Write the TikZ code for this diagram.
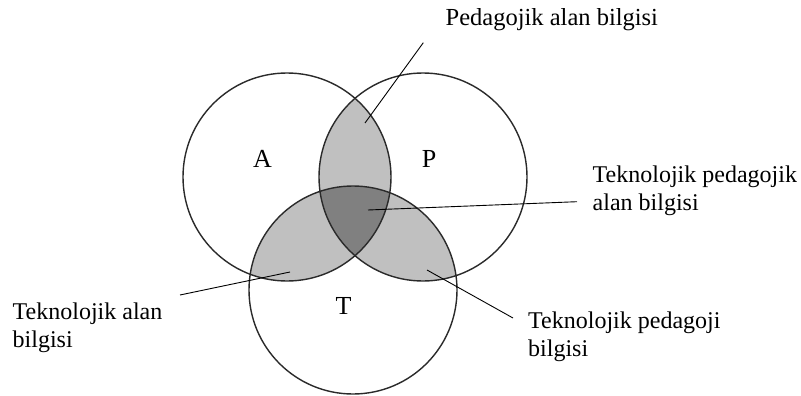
\documentclass[tikz,border=0pt]{standalone}
\usepackage{fontspec}
\setmainfont{Liberation Serif}
\definecolor{lightfill}{HTML}{C0C0C0}
\definecolor{darkfill}{HTML}{808080}
\definecolor{ringcol}{HTML}{2A2A2A}
\begin{document}
\begin{tikzpicture}[x=1pt,y=-1pt,
 ring/.style={draw=ringcol, line width=1.4pt, circle, minimum size=208pt, inner sep=0pt},
 lbl/.style={font=\fontsize{24}{28}\selectfont, inner sep=0pt, align=left, anchor=north west},
 letter/.style={font=\fontsize{26}{30}\selectfont, inner sep=0pt, anchor=base},
 leader/.style={draw=black, line width=0.9pt}]
\useasboundingbox (0,0) rectangle (801,396);
\coordinate (cA) at (287,177);
\coordinate (cP) at (423,177);
\coordinate (cT) at (353,290);
% pairwise overlaps
\begin{scope}
 \clip (cA) circle[radius=104pt];
 \fill[lightfill] (cP) circle[radius=104pt];
 \fill[lightfill] (cT) circle[radius=104pt];
\end{scope}
\begin{scope}
 \clip (cP) circle[radius=104pt];
 \fill[lightfill] (cT) circle[radius=104pt];
\end{scope}
% triple overlap
\begin{scope}
 \clip (cA) circle[radius=104pt];
 \clip (cP) circle[radius=104pt];
 \fill[darkfill] (cT) circle[radius=104pt];
\end{scope}
% circles
\node[ring] (A) at (cA) {};
\node[ring] (P) at (cP) {};
\node[ring] (T) at (cT) {};
% letters
\node[letter] (la) at (262.5,167.5) {A};
\node[letter] (lp) at (429,167.5) {P};
\node[letter] (lt) at (343.5,314) {T};
% labels
\node[lbl, anchor=base west, font=\fontsize{24.5}{28}\selectfont] (ped) at (445.5,26) {Pedagojik alan bilgisi};
\node[lbl] (tpak) at (592.5,166) {Teknolojik pedagojik\\alan bilgisi};
\node[lbl] (tk) at (12.5,302.5) {Teknolojik alan\\bilgisi};
\node[lbl] (tpk) at (528,312) {Teknolojik pedagoji\\bilgisi};
% leader ends
\coordinate (pedIn) at (365,123);
\coordinate (pedOut) at (423.3,42.7);
\coordinate (tpakIn) at (368,210);
\coordinate (tpakOut) at (577,201.7);
\coordinate (tkIn) at (290,272);
\coordinate (tkOut) at (180,295);
\coordinate (tpkIn) at (427,270);
\coordinate (tpkOut) at (513,318);
\draw[leader] (pedIn) -- (pedOut);
\draw[leader] (tpakIn) -- (tpakOut);
\draw[leader] (tkIn) -- (tkOut);
\draw[leader] (tpkIn) -- (tpkOut);
\end{tikzpicture}
\end{document}
